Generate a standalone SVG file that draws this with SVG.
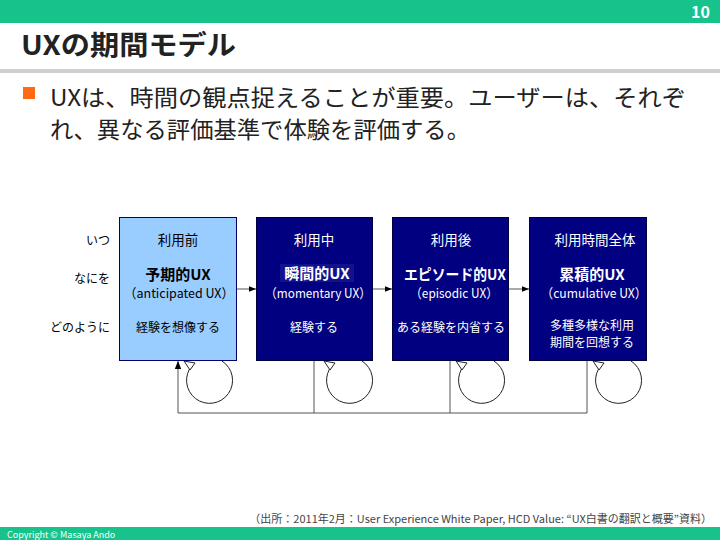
<svg xmlns="http://www.w3.org/2000/svg" width="720" height="540" viewBox="0 0 720 540">
<defs>
<style>
text{font-family:"Noto Sans CJK JP","Liberation Sans",sans-serif;}
.lbl{font-size:12px;fill:#000;text-anchor:end;}
.bt{font-size:13.5px;text-anchor:middle;}
.bb{font-size:12px;text-anchor:middle;}
.bh{font-size:15px;font-weight:bold;text-anchor:middle;}
.bs{font-size:13px;text-anchor:middle;}
.w{fill:#fff;}
.k{fill:#000;}
.conn{fill:none;stroke:#555;stroke-width:1;}
.loop{fill:none;stroke:#222;stroke-width:1;}
.oh{fill:#fff;stroke:#222;stroke-width:1;}
</style>
<marker id="ah" viewBox="0 0 10 10" refX="10" refY="5" markerWidth="7" markerHeight="7" markerUnits="userSpaceOnUse" orient="auto">
<path d="M0,1 L10,5 L0,9 Z" fill="#000"/>
</marker>
<marker id="ah2" viewBox="0 0 10 10" refX="10" refY="5" markerWidth="8" markerHeight="10" markerUnits="userSpaceOnUse" orient="auto">
<path d="M0,1 L10,5 L0,9 Z" fill="#000"/>
</marker>
</defs>
<rect x="0" y="0" width="720" height="540" fill="#fff"/>
<rect x="0" y="0" width="720" height="23" fill="#17C28B"/>
<text x="710" y="18" font-size="16" font-weight="bold" fill="#fff" text-anchor="end">10</text>
<text x="21" y="55" font-size="27" font-weight="bold" fill="#222" textLength="215" lengthAdjust="spacingAndGlyphs">UXの期間モデル</text>
<rect x="0" y="69" width="720" height="4" fill="#cfcfcf"/>
<rect x="23" y="87" width="12" height="12" fill="#FF6A13"/>
<text x="50" y="106" font-size="23" fill="#222" textLength="636" lengthAdjust="spacingAndGlyphs">UXは、時間の観点捉えることが重要。ユーザーは、それぞ</text>
<text x="50" y="138" font-size="23" fill="#222" textLength="420" lengthAdjust="spacingAndGlyphs">れ、異なる評価基準で体験を評価する。</text>

<g id="row-labels">
<text class="lbl" x="110" y="245">いつ</text>
<text class="lbl" x="110" y="283">なにを</text>
<text class="lbl" x="110" y="332">どのように</text>
</g>

<g id="connectors">
<path class="conn" d="M237,289 H256" marker-end="url(#ah)"/>
<path class="conn" d="M372,289 H392" marker-end="url(#ah)"/>
<path class="conn" d="M509,289 H529" marker-end="url(#ah)"/>
<path class="conn" d="M314,360 V413"/>
<path class="conn" d="M450,360 V413"/>
<path class="conn" d="M587,360 V413 H178 V361" marker-end="url(#ah2)"/>
<g id="loop1">
<path class="loop" d="M222,361 A23,23 0 1,1 192,365.5"/>
<polygon class="oh" points="184,361 195,363 190,370"/>
</g>
<g id="loop2">
<path class="loop" d="M362,361 A23,23 0 1,1 332,365.5"/>
<polygon class="oh" points="324,361 335,363 330,370"/>
</g>
<g id="loop3">
<path class="loop" d="M494,361 A23,23 0 1,1 464,365.5"/>
<polygon class="oh" points="456,361 467,363 462,370"/>
</g>
<g id="loop4">
<path class="loop" d="M631,361 A23,23 0 1,1 601,365.5"/>
<polygon class="oh" points="593,361 604,363 599,370"/>
</g>
</g>

<g id="node-anticipated">
<rect x="119.5" y="217.5" width="117" height="143" fill="#99CCFF" stroke="#000066" stroke-width="1"/>
<text class="bt k" x="178" y="245">利用前</text>
<text class="bh k" x="178" y="280">予期的UX</text>
<text class="bs k" x="179" y="298" textLength="110" lengthAdjust="spacingAndGlyphs">（anticipated UX）</text>
<text class="bb k" x="178" y="332">経験を想像する</text>
</g>

<g id="node-momentary">
<rect x="256.5" y="217.5" width="116" height="143" fill="#000080" stroke="#000040" stroke-width="1"/>
<rect x="280" y="264" width="74" height="18" fill="#12128C"/>
<text class="bt w" x="314" y="245">利用中</text>
<text class="bh w" x="317" y="279">瞬間的UX</text>
<text class="bs w" x="318" y="298" textLength="106" lengthAdjust="spacingAndGlyphs">（momentary UX）</text>
<text class="bb w" x="314" y="332">経験する</text>
</g>

<g id="node-episodic">
<rect x="392.5" y="217.5" width="116" height="143" fill="#000080" stroke="#000040" stroke-width="1"/>
<text class="bt w" x="451" y="245">利用後</text>
<text class="bh w" x="455" y="280" textLength="102" lengthAdjust="spacingAndGlyphs">エピソード的UX</text>
<text class="bs w" x="454" y="298" textLength="88" lengthAdjust="spacingAndGlyphs">（episodic UX）</text>
<text class="bb w" x="451" y="332">ある経験を内省する</text>
</g>

<g id="node-cumulative">
<rect x="529.5" y="217.5" width="117" height="143" fill="#000080" stroke="#000040" stroke-width="1"/>
<text class="bt w" x="595" y="245">利用時間全体</text>
<text class="bh w" x="592" y="280">累積的UX</text>
<text class="bs w" x="594" y="298" textLength="106" lengthAdjust="spacingAndGlyphs">（cumulative UX）</text>
<text class="bb w" x="592" y="330">多種多様な利用</text>
<text class="bb w" x="592" y="347">期間を回想する</text>
</g>

<text x="712" y="523" font-size="11" fill="#444" text-anchor="end">（出所：2011年2月：User Experience White Paper, HCD Value: “UX白書の翻訳と概要”資料）</text>
<rect x="0" y="527" width="720" height="13" fill="#17C28B"/>
<text x="7" y="538" font-size="9" fill="#fff">Copyright ©</text>
<text x="60" y="538" font-size="9" fill="#fff">Masaya Ando</text>
</svg>
